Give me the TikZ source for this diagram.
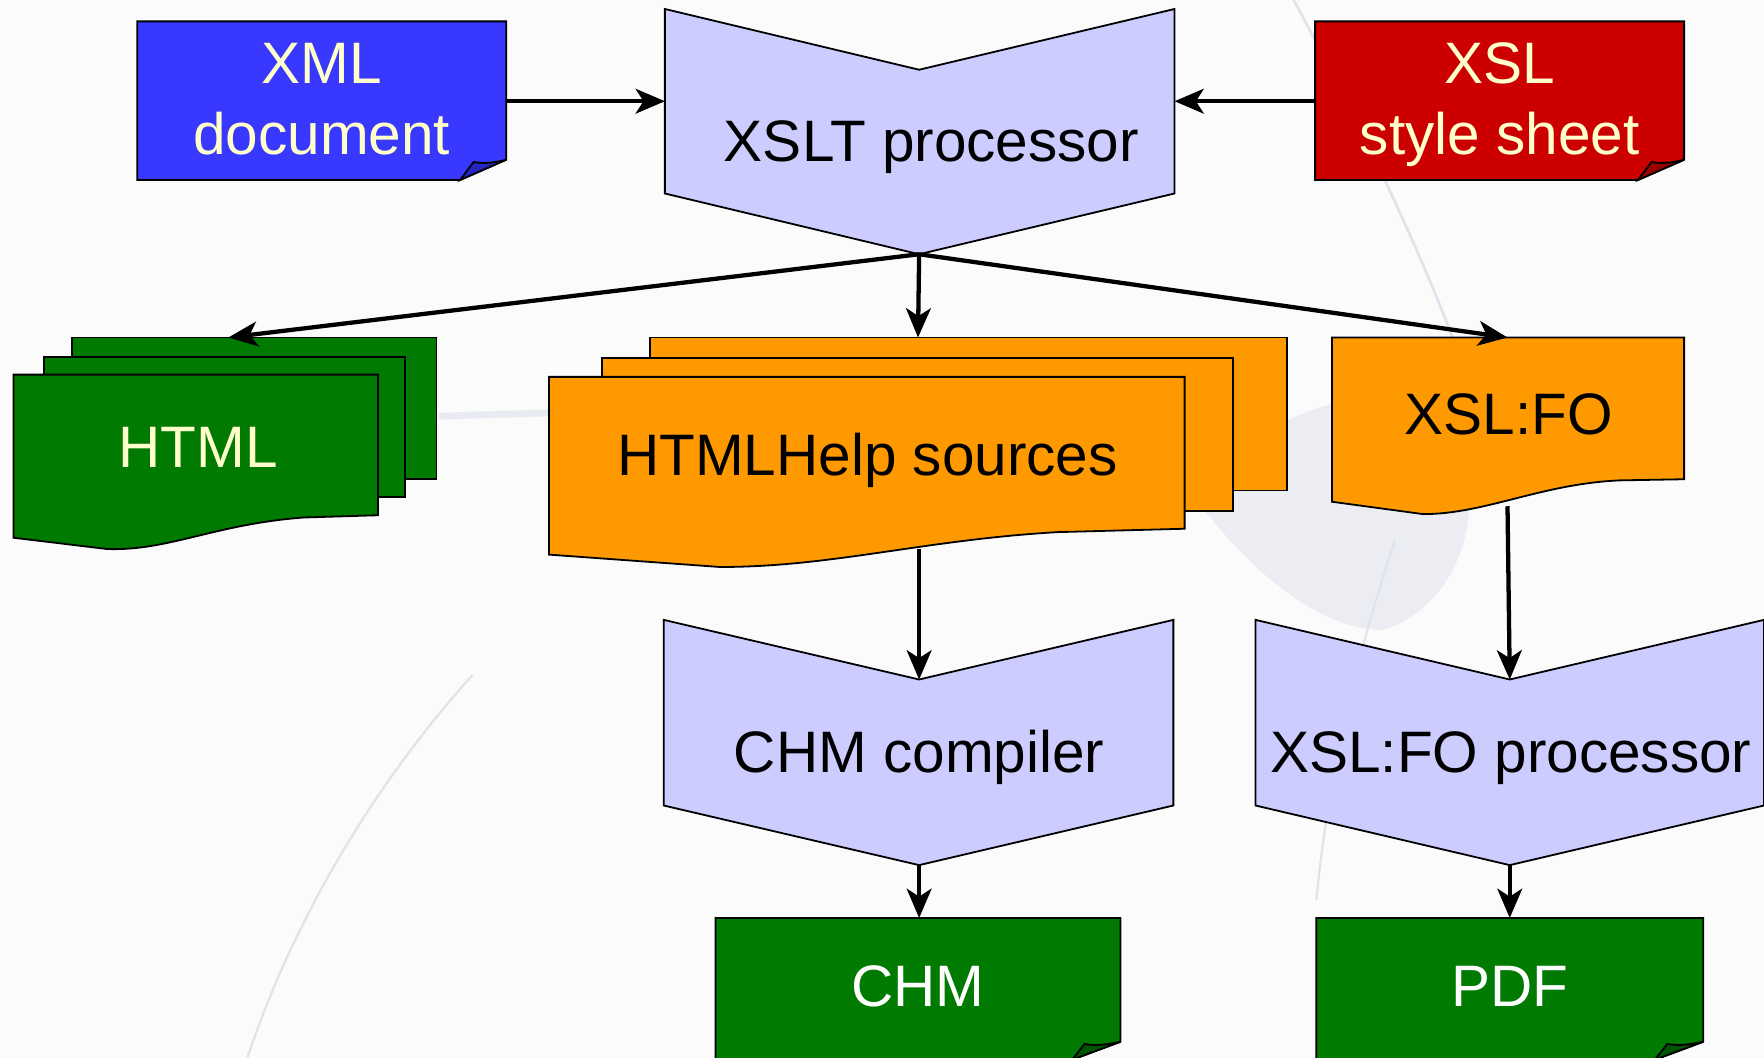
\documentclass[tikz,border=0pt]{standalone}
\usepackage{fontspec}
\setmainfont{Liberation Sans}
\usetikzlibrary{arrows.meta}
\definecolor{bluedoc}{HTML}{3838FF}
\definecolor{bluefold}{HTML}{2626C0}
\definecolor{reddoc}{HTML}{CC0000}
\definecolor{redfold}{HTML}{990000}
\definecolor{greendoc}{HTML}{007A00}
\definecolor{greenfold}{HTML}{005500}
\definecolor{orangedoc}{HTML}{FF9900}
\definecolor{procfill}{HTML}{CCCCFF}
\definecolor{lighttext}{HTML}{FFFFCC}
\definecolor{bgswirl}{HTML}{E6E8F0}
\definecolor{bgline}{HTML}{E0E3EC}
\begin{document}
\begin{tikzpicture}[x=0.5pt,y=-0.5pt,
  shapeline/.style={draw=black, line width=0.8pt, line join=miter},
  conn/.style={line width=1.9pt, -{Stealth[length=13pt,width=11pt,inset=3.5pt]}},
  lbl/.style={font=\fontsize{26}{31.5}\selectfont, align=center, inner sep=0pt, anchor=base}]
% background
\fill[white!97!gray] (0,0) rectangle (1568,940);
\useasboundingbox (0,0) rectangle (1568,940);
\clip (0,0) rectangle (1568,940);
\fill[bgswirl, opacity=0.7] (1060,440) .. controls (1120,520) and (1180,560) .. (1230,560)
   .. controls (1290,540) and (1320,470) .. (1300,400) .. controls (1260,330) and (1150,340) .. cycle;
\draw[bgline, line width=1.2pt] (1150,0) .. controls (1230,150) and (1300,300) .. (1330,420);
\draw[bgline, line width=1pt] (1240,480) .. controls (1200,600) and (1180,700) .. (1170,800);
\draw[bgline, line width=1pt] (420,600) .. controls (330,700) and (260,820) .. (220,940);
\draw[bgline!70, line width=3pt] (390,370) .. controls (450,368) and (520,366) .. (560,366);
% ---------- top row ----------
\path[shapeline, fill=bluedoc] (122,19) -- (450,19) -- (450,142) -- (409,160) -- (122,160) -- cycle;
\path[shapeline, fill=bluefold] (409,160) -- (421,144) .. controls (432,146) and (442,144) .. (450,142) -- cycle;
\node[lbl, text=lighttext] (xml) at (286,137) {XML\\document};

\path[shapeline, fill=procfill] (591,8) -- (817,62) -- (1044,8) -- (1044,172) -- (817,226) -- (591,172) -- cycle;
\node[lbl] (xslt) at (828,144) {XSLT processor};

\path[shapeline, fill=reddoc] (1169,19) -- (1497,19) -- (1497,142) -- (1456,160) -- (1169,160) -- cycle;
\path[shapeline, fill=redfold] (1456,160) -- (1468,144) .. controls (1479,146) and (1489,144) .. (1497,142) -- cycle;
\node[lbl, text=lighttext] (xsl) at (1333,137) {XSL\\style sheet};

% ---------- HTML stack ----------
\path[shapeline, fill=greendoc] (64,300) rectangle (388,426);
\path[shapeline, fill=greendoc] (39,317) rectangle (360,442);
\path[shapeline, fill=greendoc] (12,333) -- (336,333) -- (336,458) -- (270,460)
   .. controls (190,466) and (150,490) .. (95,488) -- (12,478) -- cycle;
\node[lbl, text=lighttext] (html) at (176,416) {HTML};

% ---------- HTMLHelp stack ----------
\path[shapeline, fill=orangedoc] (578,300) rectangle (1144,436);
\path[shapeline, fill=orangedoc] (535,318) rectangle (1096,454);
\path[shapeline, fill=orangedoc] (488,335) -- (1053,335) -- (1053,470) -- (940,473)
   .. controls (820,480) and (740,504) .. (640,504) -- (488,493) -- cycle;
\node[lbl] (hh) at (771,423) {HTMLHelp sources};

% ---------- XSL:FO ----------
\path[shapeline, fill=orangedoc] (1184,300) -- (1497,300) -- (1497,426) -- (1440,427)
   .. controls (1370,430) and (1320,457) .. (1265,457) -- (1184,446) -- cycle;
\node[lbl] (fo) at (1341,386) {XSL:FO};

% ---------- processors ----------
\path[shapeline, fill=procfill] (590,551) -- (817,604) -- (1043,551) -- (1043,716) -- (817,769) -- (590,716) -- cycle;
\node[lbl] (chmc) at (817,687) {CHM compiler};

\path[shapeline, fill=procfill] (1116,551) -- (1342,604) -- (1568,551) -- (1568,716) -- (1342,769) -- (1116,716) -- cycle;
\node[lbl] (fop) at (1343,687) {XSL:FO processor};

% ---------- outputs ----------
\path[shapeline, fill=greendoc] (636,816) -- (996,816) -- (996,926) -- (953,942) -- (636,942) -- cycle;
\path[shapeline, fill=greenfold] (953,942) -- (964,928) .. controls (976,930) and (986,928) .. (996,926) -- cycle;
\node[lbl, text=white] (chm) at (816,895) {CHM};

\path[shapeline, fill=greendoc] (1170,816) -- (1514,816) -- (1514,926) -- (1471,942) -- (1170,942) -- cycle;
\path[shapeline, fill=greenfold] (1471,942) -- (1482,928) .. controls (1494,930) and (1504,928) .. (1514,926) -- cycle;
\node[lbl, text=white] (pdf) at (1342,895) {PDF};

% ---------- connector end points ----------
\coordinate (xml-e) at (450,90);
\coordinate (xslt-w) at (591,90);
\coordinate (xslt-e) at (1044,90);
\coordinate (xsl-w) at (1169,90);
\coordinate (xslt-s) at (817,226);
\coordinate (html-n) at (203,300);
\coordinate (hh-n) at (816,300);
\coordinate (fo-n) at (1340,300);
\coordinate (hh-s) at (817,488);
\coordinate (chmc-n) at (817,604);
\coordinate (fo-s) at (1340,450);
\coordinate (fop-n) at (1342,604);
\coordinate (chmc-s) at (817,769);
\coordinate (chm-n) at (817,816);
\coordinate (fop-s) at (1342,769);
\coordinate (pdf-n) at (1342,816);

\draw[conn] (xml-e) -- (xslt-w);
\draw[conn] (xsl-w) -- (xslt-e);
\draw[conn] (xslt-s) -- (html-n);
\draw[conn] (xslt-s) -- (hh-n);
\draw[conn] (xslt-s) -- (fo-n);
\draw[conn] (hh-s) -- (chmc-n);
\draw[conn] (fo-s) -- (fop-n);
\draw[conn] (chmc-s) -- (chm-n);
\draw[conn] (fop-s) -- (pdf-n);
\end{tikzpicture}
\end{document}
